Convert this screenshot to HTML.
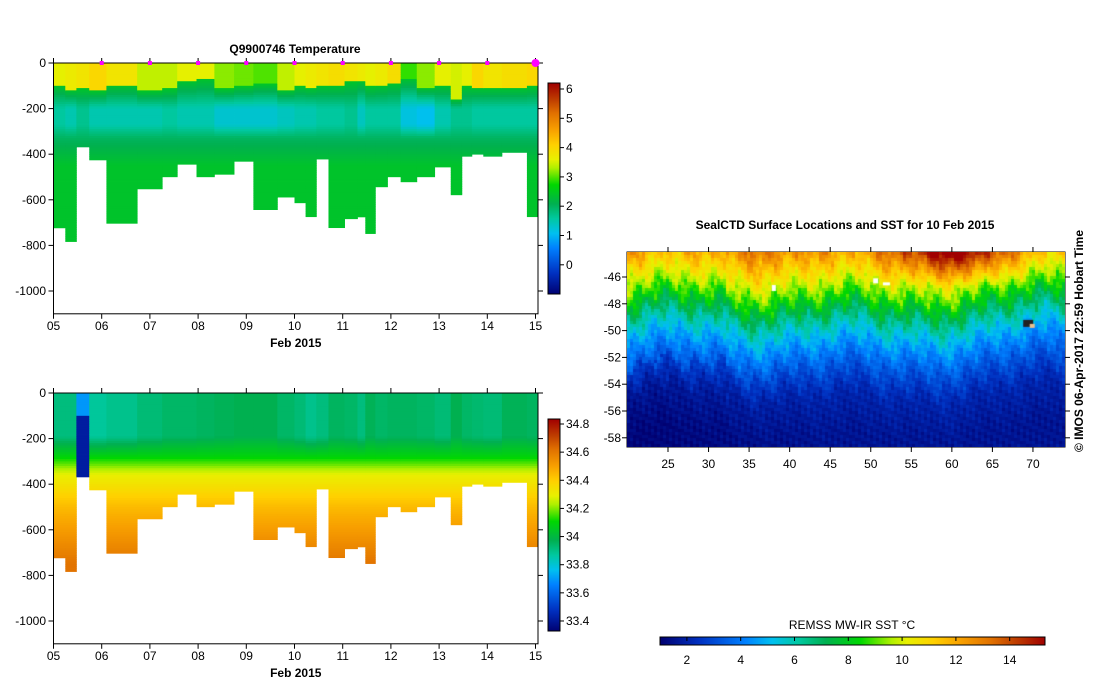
<!DOCTYPE html>
<html><head><meta charset="utf-8">
<style>
html,body{margin:0;padding:0;background:#fff;}
#wrap{position:relative;width:1099px;height:700px;overflow:hidden;font-family:"Liberation Sans",sans-serif;}
svg text{font-family:"Liberation Sans",sans-serif;font-size:12px;fill:#000;}
#map{position:absolute;left:627px;top:252px;}
</style></head>
<body>
<div id="wrap">
<svg id="svg" width="1099" height="700"></svg>
<canvas id="map" width="438" height="195"></canvas>
</div>
<script>
// ---- profile data (31 profiles) ----
const colStart=[0,0.245,0.475,0.742,1.098,1.736,2.255,2.567,2.967,3.338,3.746,4.147,4.644,5.0,5.23,5.453,5.705,6.039,6.306,6.469,6.677,6.929,7.203,7.537,7.908,8.242,8.472,8.680,8.917,9.303,9.822];
const colEnd=[0.245,0.475,0.742,1.098,1.736,2.255,2.567,2.967,3.338,3.746,4.147,4.644,5.0,5.23,5.453,5.705,6.039,6.306,6.469,6.677,6.929,7.203,7.537,7.908,8.242,8.472,8.680,8.917,9.303,9.822,10.04];
const maxDepth=[723,783,368,425,703,552,499,444,499,488,431,643,588,613,674,421,722,683,675,748,543,499,521,499,456,578,409,400,409,392,674];
const surfT=[3.6,3.7,3.8,4.0,3.8,3.4,3.4,3.6,3.6,3.2,3.1,3.0,3.4,3.6,3.7,3.8,3.9,3.8,3.7,3.6,3.7,3.9,2.9,3.2,3.6,3.5,3.6,4.0,3.8,3.9,4.0];
const mixDepth=[100,120,115,125,100,125,115,80,70,115,105,95,120,105,110,100,100,85,80,105,100,90,70,110,100,160,105,110,110,110,105];
const minT=[1.6,1.5,1.7,1.5,1.5,1.5,1.6,1.5,1.5,1.3,1.3,1.3,1.4,1.5,1.5,1.6,1.6,1.7,1.4,1.6,1.6,1.6,1.2,1.1,1.5,1.7,1.7,1.6,1.6,1.6,1.6];
const surfS=[33.92,33.92,33.70,33.88,33.90,33.93,33.95,33.95,33.96,33.97,33.98,33.98,33.95,33.93,33.90,33.92,33.96,33.95,33.92,33.97,33.95,33.96,33.96,33.95,33.93,33.98,33.95,33.94,33.93,33.97,33.96];
const tempTicks=[6,5,4,3,2,1,0];
const salTicks=[34.8,34.6,34.4,34.2,34,33.8,33.6,33.4];
const dayLabels=['05','06','07','08','09','10','11','12','13','14','15'];
const depthTicks=[0,-200,-400,-600,-800,-1000];
const sstTicks=[2,4,6,8,10,12,14];
const lonTicks=[25,30,35,40,45,50,55,60,65,70];
const latTicks=[-46,-48,-50,-52,-54,-56,-58];
const trackLon=[58.8,59.8,60.8,62.2,63.0,63.7,65.0,65.3,65.8,67.0,68.3,69.3,70.0];
const trackLat=[-52.9,-53.0,-52.9,-52.8,-52.7,-52.6,-52.4,-52.3,-52.2,-51.9,-51.4,-50.9,-50.3];

const stops=[[0,[0,0,112]],[0.1,[0,48,192]],[0.22,[0,128,255]],[0.29,[0,192,240]],[0.36,[0,200,160]],[0.43,[0,176,80]],[0.52,[0,216,0]],[0.6,[176,240,0]],[0.64,[232,240,0]],[0.71,[255,208,0]],[0.78,[248,160,0]],[0.86,[224,112,0]],[0.92,[192,64,0]],[1,[160,0,0]]];
function cmap(t){t=Math.max(0,Math.min(1,t));for(let i=1;i<stops.length;i++){if(t<=stops[i][0]){const a=stops[i-1],b=stops[i];const f=(t-a[0])/(b[0]-a[0]);const c=a[1].map((v,k)=>Math.round(v+(b[1][k]-v)*f));return 'rgb('+c.join(',')+')';}}return 'rgb(160,0,0)';}
function lerp(a,b,f){f=Math.max(0,Math.min(1,f));return a+(b-a)*f;}
const NS='http://www.w3.org/2000/svg';
const svg=document.getElementById('svg');
function el(tag,attrs,parent){const e=document.createElementNS(NS,tag);for(const k in attrs)e.setAttribute(k,attrs[k]);(parent||svg).appendChild(e);return e;}
function txt(x,y,s,anchor,parent,extra){const t=el('text',Object.assign({x:x,y:y,'text-anchor':anchor||'middle'},extra||{}),parent);t.textContent=s;return t;}

const X0=53.5,XR=538,PXD=48.2;
function xDay(d){return X0+d*PXD;}
function tempProfile(i,z){
 if(z<mixDepth[i])return surfT[i];
 if(z<200)return lerp(2.4,minT[i],(z-mixDepth[i])/(200-mixDepth[i]));
 if(z<270)return minT[i];
 if(z<330)return lerp(minT[i],2.0,(z-270)/60);
 return lerp(2.0,2.4,(z-330)/120);
}
function salProfile(i,z){
 if(i===2){return z<100?surfS[i]:33.42;}
 if(z<190)return surfS[i];
 if(z<280)return lerp(surfS[i],34.1,(z-190)/90);
 if(z<360)return lerp(34.1,34.3,(z-280)/80);
 if(z<500)return lerp(34.3,34.45,(z-360)/140);
 return lerp(34.45,34.62,(z-500)/250);
}
function drawPanel(y0,name,profile,vmin,vmax,cbTop,cbBot,ticks,tickY0,tickStep,tickFmt){
 const g=el('g',{},svg);
 
 
 const py=m=>y0+m*0.228;
 const hm=el('g',{},g);
 
 
 for(let i=0;i<colStart.length;i++){
  const x1=xDay(colStart[i]),x2=xDay(colEnd[i]);
  for(let z=0;z<maxDepth[i];z+=10){
   const v=profile(i,z+5);
   const zz=Math.min(z+10,maxDepth[i]);
   const r=el('rect',{x:x1.toFixed(2),y:py(z).toFixed(2),width:(x2-x1+0.4).toFixed(2),height:(py(zz)-py(z)+0.4).toFixed(2),fill:cmap((v-vmin)/(vmax-vmin))},hm);
   
   
  }
 }
 const frame=el('rect',{x:X0,y:y0,width:XR-X0,height:py(1100)-y0,fill:'none',stroke:'#000','stroke-width':1},g);
 
 
 depthTicks.forEach(d=>{const y=py(-d);
  el('line',{x1:X0-5,x2:X0,y1:y,y2:y,stroke:'#000'},g);
  el('line',{x1:XR,x2:XR+5,y1:y,y2:y,stroke:'#000'},g);
  const t=txt(46,y+4,String(d),'end',g);
  
  
 });
 dayLabels.forEach((s,k)=>{const x=xDay(k);
  el('line',{x1:x,x2:x,y1:py(1100),y2:py(1100)+5,stroke:'#000'},g);
  el('line',{x1:x,x2:x,y1:y0-5,y2:y0,stroke:'#000'},g);
  const t=txt(x,py(1100)+16,s,'middle',g);
  
  
 });
 const xt=txt((X0+XR)/2,py(1100)+33,'Feb 2015','middle',g,{'font-weight':'bold'});
 
 
 const cb=el('g',{},g);
 
 
 for(let y=cbTop;y<cbBot;y++){const t=1-(y-cbTop)/(cbBot-cbTop);el('rect',{x:548,y:y,width:12,height:1.2,fill:cmap(t)},cb);}
 el('rect',{x:548,y:cbTop,width:12,height:cbBot-cbTop,fill:'none',stroke:'#000'},cb);
 ticks.forEach((v,k)=>{const y=tickY0+k*tickStep;
  el('line',{x1:560,x2:564,y1:y,y2:y,stroke:'#000'},cb);
  const t=txt(566,y+4,tickFmt(v),'start',cb);
  
  
 });
}
drawPanel(63,'temperature-panel',tempProfile,-1.0,6.2,83,294,tempTicks,89,29.3,v=>String(v));
drawPanel(393,'salinity-panel',salProfile,33.33,34.84,419,631,salTicks,424,28.14,v=>String(v));
const tt=txt(295,53,'Q9900746  Temperature','middle',svg,{'font-weight':'bold'});


for(let d=1;d<=9;d++){const m=el('rect',{x:xDay(d)-2,y:61,width:4,height:4,fill:'#ff00ff'});
 
 }
const big=el('circle',{cx:xDay(10),cy:63,r:4,fill:'#ff00ff'});



// ---- map ----
const MX=627,MY=252,MW=438,MH=195;
const lonX=l=>668+(l-25)*8.11;
const latY=l=>277+(-46-l)*13.4;
const mt=txt(845,229,'SealCTD Surface Locations and SST for 10 Feb 2015','middle',svg,{'font-weight':'bold'});


const mg=el('g',{});


lonTicks.forEach(l=>{const x=lonX(l);
 el('line',{x1:x,x2:x,y1:MY-5,y2:MY,stroke:'#000'},mg);
 el('line',{x1:x,x2:x,y1:MY+MH,y2:MY+MH+5,stroke:'#000'},mg);
 const t=txt(x,MY+MH+21,String(l),'middle',mg);
 
 
});
latTicks.forEach(l=>{const y=latY(l);
 el('line',{x1:MX-5,x2:MX,y1:y,y2:y,stroke:'#000'},mg);
 el('line',{x1:MX+MW,x2:MX+MW+5,y1:y,y2:y,stroke:'#000'},mg);
 const t=txt(MX-6,y+4,String(l),'end',mg);
 
 
});
el('rect',{x:MX,y:MY,width:MW,height:MH,fill:'none',stroke:'#000'},mg);
const st=txt(0,0,'© IMOS 06-Apr-2017 22:59 Hobart Time','start',svg,{transform:'translate(1083,452) rotate(-90)','font-weight':'bold','font-size':'15.5'});


const sg=el('g',{});


for(let x=660;x<1045;x++){el('rect',{x:x,y:637,width:1.2,height:8,fill:cmap((x-660)/385)},sg);}
el('rect',{x:660,y:637,width:385,height:8,fill:'none',stroke:'#000'},sg);
sstTicks.forEach(v=>{const x=660+(v-1.0)*26.9;
 el('line',{x1:x,x2:x,y1:637,y2:641,stroke:'#000'},sg);
 const t=txt(x,664,String(v),'middle',sg);
 
 });
const sl=txt(852,629,'REMSS MW-IR SST °C','middle',sg);



// SST field on canvas
const cv=document.getElementById('map'),ctx=cv.getContext('2d');
const knotsD=[-7,-4,-2,0,1.5,3,4,5,6.5,7.5],knotsV=[1.4,1.9,3.0,4.5,6.0,8.0,9.3,10.4,12.0,13.2];
function gprof(d){if(d<=knotsD[0])return knotsV[0];for(let i=1;i<knotsD.length;i++)if(d<=knotsD[i])return lerp(knotsV[i-1],knotsV[i],(d-knotsD[i-1])/(knotsD[i]-knotsD[i-1]));return knotsV[knotsV.length-1];}
for(let py=0;py<MH;py+=3){for(let px=0;px<MW;px+=3){
 const lon=25+(MX+px+1.5-668)/8.11, lat=-46-((MY+py+1.5)-277)/13.4;
 let front=-51.0+0.4*Math.sin(lon*0.3)+0.3*Math.sin(lon*0.8+1)+(lon>63?(lon-63)*0.12:0);
 if(lon<32)front+=0.4;
 const d=lat-front+0.45*Math.sin(lon*1.9+lat*1.3)+0.3*Math.sin(lon*3.7-lat*2.3)+0.2*Math.sin(lon*6.1+lat*4.7);
 let v=gprof(d);
 v+=1.8*Math.exp(-Math.pow((lon-61)/7,2))*Math.max(0,lat+46.8)/1.5;
 v+=0.35*Math.sin(lon*5.3+lat*3.9)*Math.sin(lon*2.7-lat*6.1);
 if(d<-2)v-=0.4*Math.max(0,(45-lon)/20);
 ctx.fillStyle=cmap((v-0.8)/14.5);ctx.fillRect(px,py,3,3);
}}
ctx.fillStyle='#fff';ctx.fillRect(lonX(37.8)-MX,latY(-46.6)-MY,4,6);ctx.fillRect(lonX(50.3)-MX,latY(-46.1)-MY,5,5);ctx.fillRect(lonX(51.5)-MX,latY(-46.4)-MY,7,3);
ctx.fillStyle='#222';ctx.fillRect(lonX(68.8)-MX,latY(-49.2)-MY,10,7);ctx.fillStyle='#e8c090';ctx.fillRect(lonX(69.6)-MX,latY(-49.5)-MY,5,4);
const tg=el('g',{});


el('polyline',{points:trackLon.map((l,i)=>lonX(l)+','+latY(trackLat[i])).join(' '),fill:'none',stroke:'#ff00ff','stroke-width':1.5,'stroke-dasharray':'1,2'},tg);
trackLon.forEach((l,i)=>{const c=el('circle',{cx:lonX(l),cy:latY(trackLat[i]),r:i===0?3.5:2,fill:'#ff00ff'},tg);
 
 });
</script>
</body></html>
